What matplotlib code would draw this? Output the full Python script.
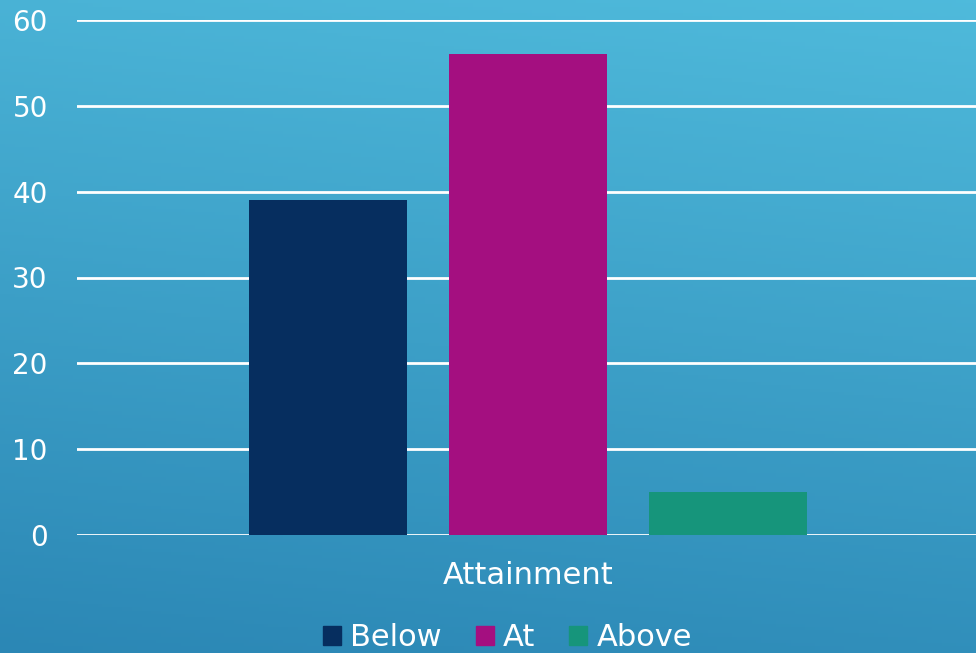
import numpy as np
import matplotlib
matplotlib.use("Agg")
import matplotlib.pyplot as plt
from matplotlib.patches import Patch

# data
category = "Attainment"
series = ["Below", "At", "Above"]
values = [39, 56, 5]
colors = ["#062e5f", "#a40f80", "#16957b"]
yticks = [0, 10, 20, 30, 40, 50, 60]

plt.rcParams["font.family"] = ["DejaVu Sans"]

fig = plt.figure(figsize=(9.76, 6.53), dpi=100)

# gradient background, lighter top right, darker bottom
bg = fig.add_axes([0, 0, 1, 1], zorder=-10)
yy, xx = np.mgrid[0:1:200j, 0:1:200j]
t = np.clip(0.85 * yy + 0.15 * xx, 0, 1)
top = np.array([0.31, 0.73, 0.86])
bottom = np.array([0.17, 0.53, 0.71])
img = bottom + (top - bottom) * t[..., None]
bg.imshow(img, origin="lower", aspect="auto", extent=[0, 1, 0, 1])
bg.axis("off")

ax = fig.add_axes([77 / 976, 118 / 653, 899 / 976, 515 / 653])
ax.patch.set_alpha(0)

width = 0.79
offsets = [-1, 0, 1]
for name, v, c, o in zip(series, values, colors, offsets):
    ax.bar(o, v, width=width, color=c, label=name, zorder=3)

ax.set_xlim(-2.255, 2.24)
ax.set_ylim(0, 60)
ax.set_yticks(yticks)
ax.yaxis.grid(True, color="white", linewidth=2, zorder=1)
ax.set_axisbelow(True)
ax.set_xticks([0])
ax.set_xticklabels([category])
ax.tick_params(axis="x", length=0, pad=19, labelsize=22, colors="white")
ax.tick_params(axis="y", length=0, pad=21, labelsize=20, colors="white")
for s in ax.spines.values():
    s.set_visible(False)

handles = [Patch(color=c, label=n) for n, c in zip(series, colors)]
fig.legend(handles=handles, loc="lower center", bbox_to_anchor=(0.52, -0.041),
           ncol=3, frameon=False, fontsize=22, labelcolor="white",
           handlelength=0.6, handleheight=0.6, handletextpad=0.3, columnspacing=1.1)

fig.savefig("out.png", dpi=100)
